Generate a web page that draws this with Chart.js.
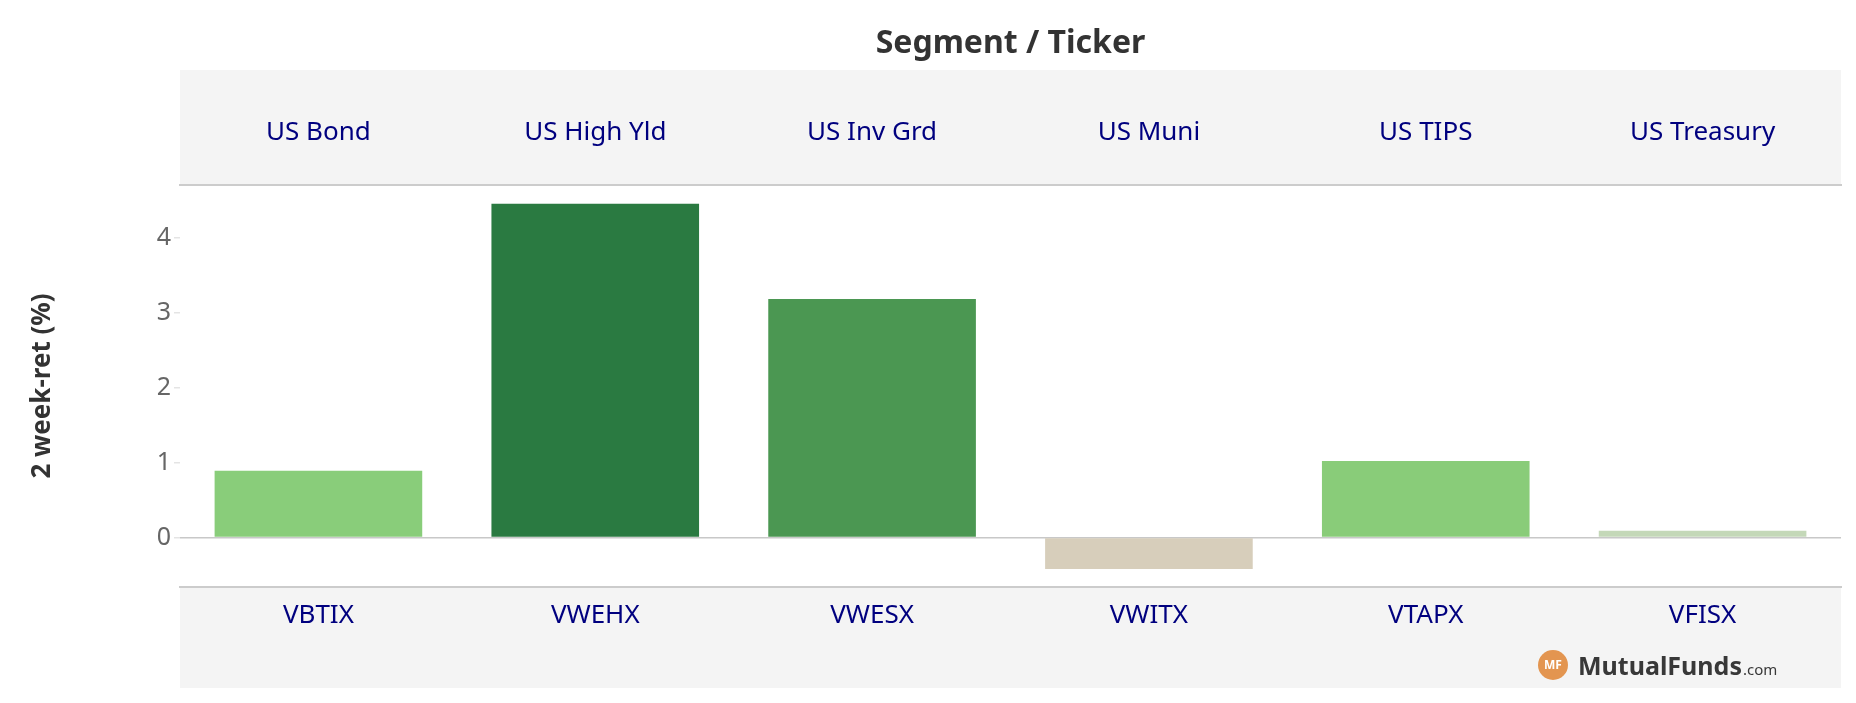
<!DOCTYPE html>
<html>
<head>
<meta charset="utf-8">
<script src="https://cdn.jsdelivr.net/npm/chart.js@4/dist/chart.umd.min.js"></script>
<style>
  html, body { margin: 0; padding: 0; background: #ffffff; }
  #wrap { width: 1856px; height: 703px; }
</style>
</head>
<body>
<div id="wrap"><canvas id="c" width="1856" height="703"></canvas></div>
<script>
// ---- data ----
const segments = ['US Bond', 'US High Yld', 'US Inv Grd', 'US Muni', 'US TIPS', 'US Treasury'];
const tickers = ['VBTIX', 'VWEHX', 'VWESX', 'VWITX', 'VTAPX', 'VFISX'];
const twoWeekReturn = [0.89, 4.45, 3.18, -0.42, 1.02, 0.09];
const barColors = ['#89CD7A', '#2A7A41', '#4B9752', '#D7CEBB', '#89CC79', '#C4D8B8'];
const yTickValues = [0, 1, 2, 3, 4];

const FONT = '"Noto Sans", "Open Sans", sans-serif';
const NAVY = '#00007f';
const BAND = '#f4f4f4';

const bandsPlugin = {
  id: 'bands',
  beforeDraw(chart) {
    const ctx = chart.ctx;
    const top = chart.scales.xTop;
    const bot = chart.scales.x;
    const ca = chart.chartArea;
    ctx.save();
    ctx.fillStyle = BAND;
    ctx.fillRect(ca.left, top.bottom - 115, ca.right - ca.left, 115);
    ctx.fillRect(ca.left, bot.top, ca.right - ca.left, bot.bottom - bot.top);
    ctx.restore();
  },
  afterDraw(chart) {
    const ctx = chart.ctx;
    const ca = chart.chartArea;
    const bot = chart.scales.x;
    const cx = ca.right - 288, cy = bot.bottom - 23;
    ctx.save();
    ctx.fillStyle = '#E39550';
    ctx.beginPath();
    ctx.arc(cx, cy, 15, 0, Math.PI * 2);
    ctx.fill();
    ctx.fillStyle = '#ffffff';
    ctx.font = 'bold 12px ' + FONT;
    ctx.textAlign = 'center';
    ctx.textBaseline = 'middle';
    ctx.fillText('MF', cx, cy + 1);
    ctx.textAlign = 'left';
    ctx.textBaseline = 'alphabetic';
    ctx.fillStyle = '#383838';
    ctx.font = 'bold 25px ' + FONT;
    const t = 'MutualFunds';
    ctx.fillText(t, cx + 25, cy + 10);
    const w = ctx.measureText(t).width;
    ctx.font = '15px ' + FONT;
    ctx.fillText('.com', cx + 25 + w + 1, cy + 10);
    ctx.restore();
  }
};

new Chart(document.getElementById('c'), {
  type: 'bar',
  data: {
    labels: tickers,
    datasets: [{
      data: twoWeekReturn,
      backgroundColor: barColors,
      borderWidth: 0,
      categoryPercentage: 1.0,
      barPercentage: 0.75
    }]
  },
  options: {
    responsive: false,
    animation: false,
    devicePixelRatio: 1,
    layout: { padding: { left: 0, right: 15, top: 0, bottom: 15 } },
    plugins: {
      legend: { display: false },
      tooltip: { enabled: false },
      title: { display: false }
    },
    scales: {
      x: {
        type: 'category',
        position: 'bottom',
        grid: { display: false },
        border: { display: true, color: '#cccccc', width: 2 },
        ticks: { color: NAVY, font: { family: FONT, size: 26 }, padding: 5, maxRotation: 0 },
        afterFit(s) { s.height = 101; }
      },
      xTop: {
        type: 'category',
        position: 'top',
        labels: segments,
        offset: true,
        grid: { display: false },
        border: { display: true, color: '#cccccc', width: 2 },
        ticks: { color: NAVY, font: { family: FONT, size: 26 }, padding: 29, maxRotation: 0 },
        title: {
          display: true,
          text: 'Segment / Ticker',
          color: '#333333',
          font: { family: FONT, size: 32, weight: 'bold' },
          padding: { top: 25, bottom: 0 }
        },
        afterFit(s) { s.height = 185; }
      },
      y: {
        type: 'linear',
        min: -0.66,
        max: 4.7,
        afterBuildTicks(s) { s.ticks = yTickValues.map(v => ({ value: v })); },
        grid: {
          drawOnChartArea: true,
          color: c => (c.tick && c.tick.value === 0) ? '#c8c8c8' : 'rgba(0,0,0,0)',
          tickColor: '#e4e4e4',
          tickLength: 6,
          lineWidth: 1.5
        },
        border: { display: false },
        ticks: { color: '#666666', font: { family: FONT, size: 25 }, padding: 3 },
        title: {
          display: true,
          text: '2 week-ret (%)',
          color: '#333333',
          font: { family: FONT, size: 26, weight: 'bold' },
          padding: { top: 27, bottom: 0 }
        },
        afterFit(s) { s.width = 180; }
      }
    }
  },
  plugins: [bandsPlugin]
});
</script>
</body>
</html>
